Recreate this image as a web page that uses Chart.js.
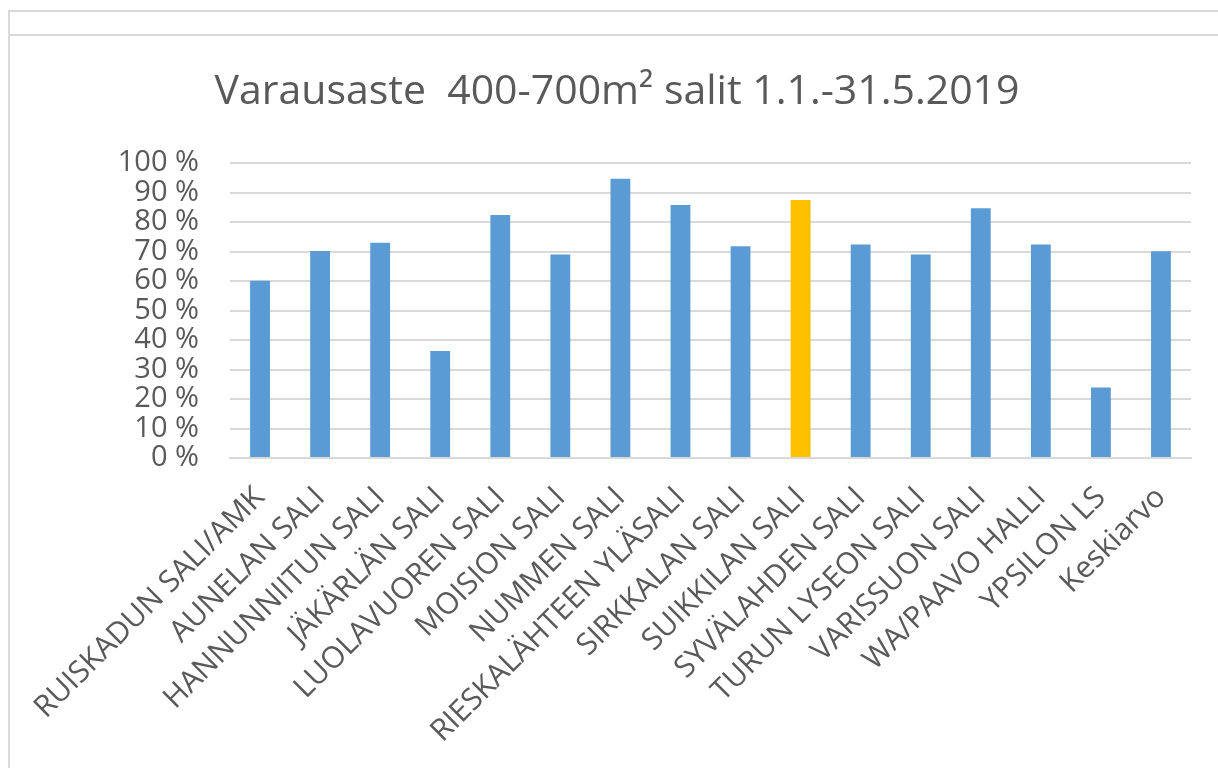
<!DOCTYPE html>
<html lang="fi">
<head>
  <meta charset="UTF-8">
  <title>Varausaste 400-700m² salit</title>
  <script src="https://cdn.jsdelivr.net/npm/chart.js"></script>
  <style>
    html, body { margin: 0; padding: 0; background: #fff; }
    #wrap { position: relative; width: 1218px; height: 768px; overflow: hidden; }
    .frame { position: absolute; background: #d9d9d9; }
    #chart { position: absolute; left: 0; top: 0; }
  </style>
</head>
<body>
  <div id="wrap">
    <div class="frame" style="left:8px; top:10px; width:1210px; height:2px;"></div>
    <div class="frame" style="left:8px; top:34px; width:1210px; height:2px;"></div>
    <div class="frame" style="left:8px; top:10px; width:2px; height:758px;"></div>
    <canvas id="chart" width="1218" height="768"></canvas>
  </div>

  <script>
    // salit ja varausaste (%)
    const salit = [
      'RUISKADUN SALI/AMK', 'AUNELAN SALI', 'HANNUNNIITUN SALI', 'JÄKÄRLÄN SALI',
      'LUOLAVUOREN SALI', 'MOISION SALI', 'NUMMEN SALI', 'RIESKALÄHTEEN YLÄSALI',
      'SIRKKALAN SALI', 'SUIKKILAN SALI', 'SYVÄLAHDEN SALI', 'TURUN LYSEON SALI',
      'VARISSUON SALI', 'WA/PAAVO HALLI', 'YPSILON LS', 'Keskiarvo'
    ];
    const varausaste = [60.1, 70.2, 73.0, 36.3, 82.4, 69.0, 94.7, 85.8, 71.8, 87.5, 72.4, 69.0, 84.7, 72.4, 23.9, 70.1];
    const korostettu = 'SUIKKILAN SALI';
    const yTicks = [0, 10, 20, 30, 40, 50, 60, 70, 80, 90, 100];

    const teksti = '#595959';
    const sininen = '#5b9bd5';
    const keltainen = '#ffc000';
    const fontti = '"Open Sans", sans-serif';

    const ctx = document.getElementById('chart').getContext('2d');
    new Chart(ctx, {
      type: 'bar',
      data: {
        labels: salit,
        datasets: [{
          data: varausaste,
          backgroundColor: salit.map(s => s === korostettu ? keltainen : sininen),
          categoryPercentage: 1,
          barPercentage: 0.33
        }]
      },
      options: {
        responsive: false,
        animation: false,
        layout: { padding: { left: 43, right: 27, top: 0, bottom: 0 } },
        plugins: {
          legend: { display: false },
          tooltip: { enabled: false },
          title: {
            display: true,
            text: 'Varausaste  400-700m² salit 1.1.-31.5.2019',
            color: teksti,
            font: { family: fontti, size: 41, weight: 'normal', lineHeight: 1.2 },
            padding: { top: 68, bottom: 46 }
          }
        },
        scales: {
          x: {
            grid: { display: false },
            border: { color: '#d9d9d9', width: 2 },
            afterFit: s => { s.height = 768 - 458; },
            ticks: {
              color: teksti,
              font: { family: fontti, size: 30 },
              minRotation: 45,
              maxRotation: 45,
              autoSkip: false,
              padding: 14
            }
          },
          y: {
            min: 0,
            max: 100,
            afterFit: s => { s.width = 187; },
            afterBuildTicks: s => { s.ticks = yTicks.map(v => ({ value: v })); },
            grid: { color: '#d9d9d9', lineWidth: 2, drawTicks: false },
            border: { display: false },
            ticks: {
              color: teksti,
              autoSkip: false,
              font: { family: fontti, size: 29 },
              padding: 31,
              callback: v => v + ' %'
            }
          }
        }
      }
    });
  </script>
</body>
</html>
